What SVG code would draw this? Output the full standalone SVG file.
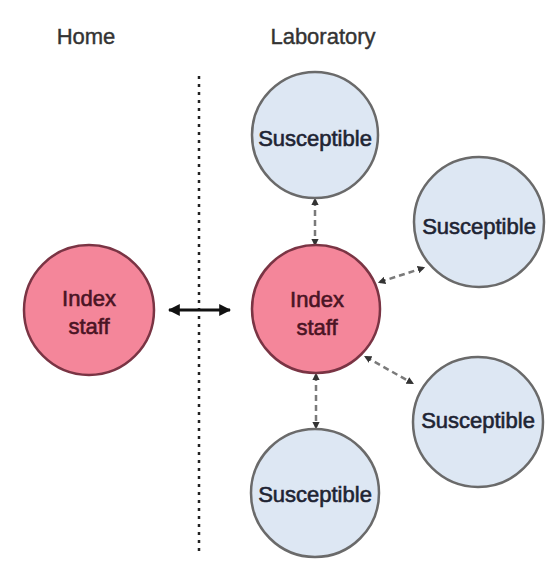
<svg xmlns="http://www.w3.org/2000/svg" width="548" height="571" viewBox="0 0 548 571">
<style>
  text { font-family: "Liberation Sans", Arial, sans-serif; font-size: 22px; text-anchor: middle; }
  .hdr { fill: #333333; stroke: #333333; stroke-width: 0.4; }
  .idx circle { fill: #f4869a; stroke: #7a3444; stroke-width: 2.5; }
  .idx text { fill: #4a1424; stroke: #4a1424; stroke-width: 0.6; }
  .sus circle { fill: #dde7f3; stroke: #6a6a6a; stroke-width: 2.5; }
  .sus text { fill: #1e2433; stroke: #1e2433; stroke-width: 0.6; }
  .dash { stroke: #7a7a7a; stroke-width: 2.5; stroke-dasharray: 6 4; fill: none; marker-start: url(#dot); marker-end: url(#dot); }
</style>
<defs>
  <marker id="dot" viewBox="0 0 10 10" refX="7" refY="5" markerWidth="3" markerHeight="3" orient="auto-start-reverse">
    <path d="M0,0 L10,5 L0,10 z" fill="#333"/>
  </marker>
  <marker id="ah" viewBox="0 0 10 10" refX="9" refY="5" markerWidth="4" markerHeight="4" orient="auto-start-reverse">
    <path d="M0,0 L10,5 L0,10 z" fill="#111"/>
  </marker>
</defs>
<rect width="548" height="571" fill="#ffffff"/>
<text class="hdr" x="86" y="44">Home</text>
<text class="hdr" x="323" y="44">Laboratory</text>
<g id="divider">
  <line x1="199" y1="76" x2="199" y2="556" stroke="#222" stroke-width="2.5" stroke-dasharray="3 5"/>
</g>
<g id="connectors">
  <line x1="169" y1="310" x2="230" y2="310" stroke="#111" stroke-width="3" marker-start="url(#ah)" marker-end="url(#ah)"/>
  <line class="dash" x1="315" y1="200" x2="315" y2="244"/>
  <line class="dash" x1="380" y1="282" x2="423" y2="268"/>
  <line class="dash" x1="366" y1="357" x2="412" y2="383"/>
  <line class="dash" x1="316" y1="375" x2="316" y2="427"/>
</g>
<g id="home-index" class="idx">
  <circle cx="89" cy="310" r="65"/>
  <text x="89" y="306">Index</text>
  <text x="89" y="334">staff</text>
</g>
<g id="lab-index" class="idx">
  <circle cx="316" cy="309" r="64"/>
  <text x="317" y="307">Index</text>
  <text x="317" y="335">staff</text>
</g>
<g id="sus-top" class="sus">
  <circle cx="315" cy="135" r="63"/>
  <text x="315" y="146">Susceptible</text>
</g>
<g id="sus-right-top" class="sus">
  <circle cx="479" cy="222" r="65"/>
  <text x="479" y="234">Susceptible</text>
</g>
<g id="sus-right-bottom" class="sus">
  <circle cx="478" cy="422" r="65"/>
  <text x="478" y="428">Susceptible</text>
</g>
<g id="sus-bottom" class="sus">
  <circle cx="315" cy="493" r="64"/>
  <text x="315" y="502">Susceptible</text>
</g>
</svg>
